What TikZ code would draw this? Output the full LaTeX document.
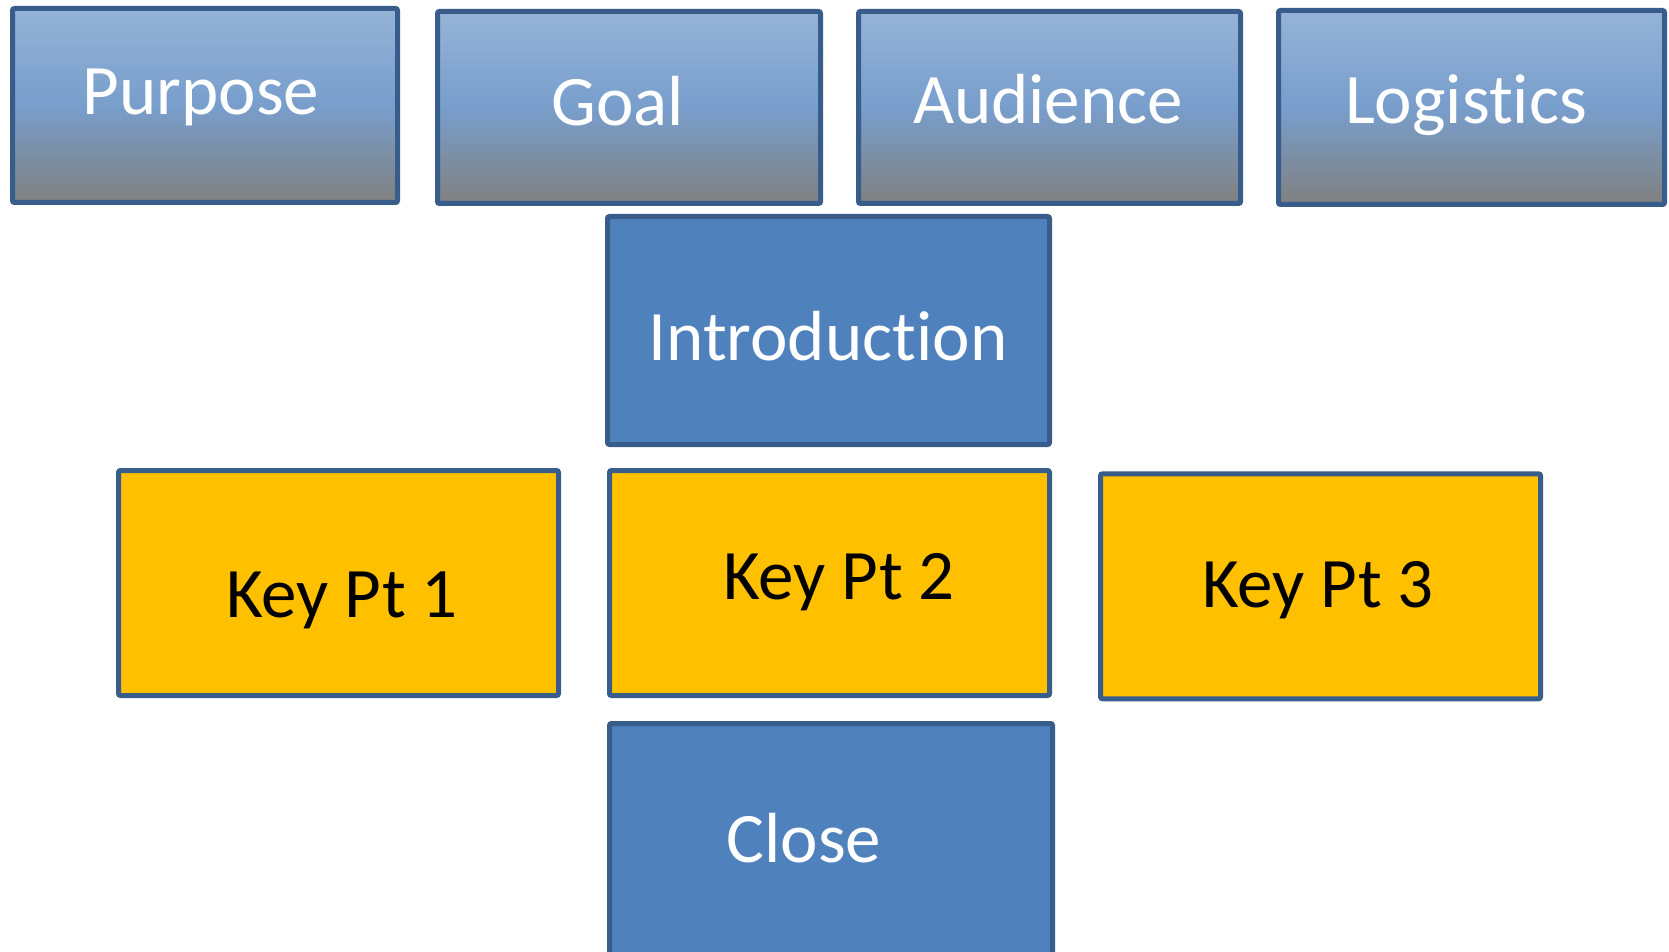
\documentclass[tikz,border=0pt]{standalone}
\usepackage{fontspec}
\setmainfont[Ligatures=NoCommon]{Carlito}
\begin{document}
\begin{tikzpicture}[x=0.5pt,y=-0.5pt,
  boxbase/.style={rectangle,draw=boxline,line width=2.5pt,rounded corners=1pt,inner sep=0pt},
  topbox/.style={boxbase,top color=gtop,bottom color=gbot,middle color=gmid},
  bluebox/.style={boxbase,fill=bluefill},
  goldbox/.style={boxbase,fill=goldfill},
  wlabel/.style={anchor=base,text=white,font=\fontsize{35.5}{43}\selectfont,inner sep=0pt},
  blabel/.style={anchor=base,text=black,font=\fontsize{35.5}{43}\selectfont,inner sep=0pt}]
\definecolor{boxline}{RGB}{56,93,138}
\definecolor{bluefill}{RGB}{79,129,189}
\definecolor{goldfill}{RGB}{255,192,0}
\definecolor{gtop}{RGB}{149,179,215}
\definecolor{gmid}{RGB}{120,158,204}
\definecolor{gbot}{RGB}{128,128,128}
\useasboundingbox (0,0) rectangle (1669,952);
\clip (0,0) rectangle (1669,952);
\node[topbox,minimum width=192.5pt,minimum height=97pt] (purpose) at (205,105.5) {};
\node[topbox,minimum width=191.5pt,minimum height=96pt] (goal) at (629,107.5) {};
\node[topbox,minimum width=191pt,minimum height=96pt] (audience) at (1049.5,107.5) {};
\node[topbox,minimum width=193pt,minimum height=97pt] (logistics) at (1471.5,107.5) {};
\node[bluebox,minimum width=221pt,minimum height=114pt] (intro) at (828.5,330.5) {};
\node[goldbox,minimum width=220pt,minimum height=112.5pt] (key1) at (338.5,583) {};
\node[goldbox,minimum width=220pt,minimum height=112.5pt] (key2) at (829.5,583) {};
\node[goldbox,minimum width=220pt,minimum height=112.5pt] (key3) at (1320.5,586.3) {};
\node[bluebox,minimum width=221.5pt,minimum height=119.5pt] (close) at (831,843) {};
\node[wlabel] (tpurpose) at (201,115) {Purpose};
\node[wlabel] (tgoal) at (618,126) {Goal};
\node[wlabel] (taudience) at (1048,124) {Audience};
\node[wlabel] (tlogistics) at (1466,124) {Logistics};
\node[wlabel] (tintro) at (828,360) {Introduction};
\node[blabel] (tkey1) at (342,617) {Key Pt 1};
\node[blabel] (tkey2) at (839,599) {Key Pt 2};
\node[blabel] (tkey3) at (1318,607) {Key Pt 3};
\node[wlabel] (tclose) at (804,862) {Close};
\end{tikzpicture}
\end{document}
